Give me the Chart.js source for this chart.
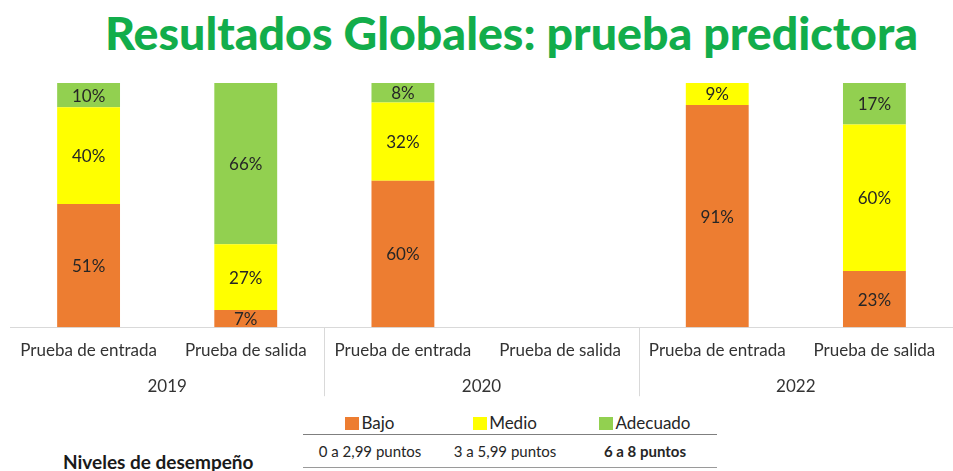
<!DOCTYPE html>
<html>
<head>
<meta charset="utf-8">
<script src="https://cdn.jsdelivr.net/npm/chart.js@4.4.1/dist/chart.umd.min.js"></script>
<style>
  body { margin: 0; width: 953px; height: 471px; background: #fff; font-family: Lato, sans-serif; position: relative; overflow: hidden; }
  #title { position: absolute; left: 105px; top: 5px; font-size: 46px; line-height: 56px; font-weight: 900; color: #12AD4B; white-space: nowrap; transform-origin: 0 0; }
  #chart { position: absolute; left: 0; top: 70px; }
  #legend { position: absolute; left: 303px; top: 410px; border-collapse: collapse; color: #262626; }
  #legend td { text-align: center; padding: 0; }
  #legend tr.names td { height: 24px; font-size: 17px; border-bottom: 1.5px solid #7f7f7f; }
  #legend tr.ranges td { height: 32px; font-size: 15px; border-bottom: 1.5px solid #9a9a9a; }
  .sw { display: inline-block; width: 14px; height: 13px; margin-right: 2px; vertical-align: -1px; }
  #niveles { position: absolute; left: 63px; top: 450px; font-size: 19px; font-weight: 700; color: #1a1a1a; }
</style>
</head>
<body>
<div id="title">Resultados Globales: prueba predictora</div>
<canvas id="chart" width="953" height="330"></canvas>
<table id="legend"><tbody></tbody></table>
<div id="niveles">Niveles de desempeño</div>
<script>
'use strict';

let tests = ['Prueba de entrada', 'Prueba de salida', 'Prueba de entrada', 'Prueba de salida', 'Prueba de entrada', 'Prueba de salida'];
let years = ['2019', '2020', '2022'];

let levels = ['Bajo', 'Medio', 'Adecuado'];
let ranges = ['0 a 2,99 puntos', '3 a 5,99 puntos', '6 a 8  puntos'];
let colors = ['#ED7D31', '#FFFF00', '#92D050'];

let bajo = [51, 7, 60, null, 91, 23];
let medio = [40, 27, 32, null, 9, 60];
let adecuado = [10, 66, 8, null, 0, 17];

// fit title width to the reference
let titleEl = document.getElementById('title');
let tw = titleEl.getBoundingClientRect().width;
titleEl.style.transform = 'scaleX(' + (813 / tw) + ')';

// legend table
let tbody = document.querySelector('#legend tbody');
let colW = [134, 136, 144];
let row1 = '<tr class="names">';
let row2 = '<tr class="ranges">';
for (let i = 0; i < levels.length; i++) {
  row1 += '<td style="width:' + colW[i] + 'px"><span class="sw" style="background:' + colors[i] + '"></span>' + levels[i] + '</td>';
  row2 += '<td style="' + (i === 2 ? 'font-weight:700' : '') + '">' + ranges[i] + '</td>';
}
tbody.innerHTML = row1 + '</tr>' + row2 + '</tr>';

// 100% stacked: each bar is scaled to its own total
let series = [bajo, medio, adecuado];
let totals = tests.map((t, i) => series.reduce((s, arr) => s + (arr[i] || 0), 0));
let shares = series.map(arr => arr.map((v, i) => v === null ? null : v / totals[i] * 100));

const segmentLabels = {
  id: 'segmentLabels',
  afterDatasetsDraw(chart) {
    let ctx = chart.ctx;
    ctx.save();
    ctx.font = '17px Lato';
    ctx.fillStyle = '#262626';
    ctx.textAlign = 'center';
    ctx.textBaseline = 'middle';
    chart.data.datasets.forEach((ds, d) => {
      chart.getDatasetMeta(d).data.forEach((bar, i) => {
        let v = series[d][i];
        if (!v) return;
        ctx.fillText(v + '%', bar.x, (bar.y + bar.base) / 2 + 1);
      });
    });
    ctx.restore();
  }
};

const groupLines = {
  id: 'groupLines',
  afterDraw(chart) {
    let ctx = chart.ctx;
    let xs = chart.scales.x;
    let bottom = chart.chartArea.bottom;
    ctx.save();
    ctx.strokeStyle = '#d9d9d9';
    ctx.lineWidth = 1;
    [2, 4].forEach(k => {
      let x = Math.round((xs.getPixelForValue(k - 1) + xs.getPixelForValue(k)) / 2) + 0.5;
      ctx.beginPath();
      ctx.moveTo(x, bottom);
      ctx.lineTo(x, bottom + 69);
      ctx.stroke();
    });
    ctx.restore();
  }
};

const data = {
  labels: tests,
  datasets: levels.map((name, d) => ({
    label: name,
    data: shares[d],
    backgroundColor: colors[d],
    borderWidth: 0,
    barPercentage: 0.4,
    categoryPercentage: 1
  }))
};

const config = {
  type: 'bar',
  data: data,
  options: {
    responsive: false,
    animation: false,
    layout: { padding: { top: 13, left: 10, right: 0, bottom: 0 } },
    plugins: {
      legend: { display: false },
      tooltip: { enabled: false }
    },
    scales: {
      x: {
        stacked: true,
        weight: 0,
        grid: { drawOnChartArea: false, drawTicks: false },
        border: { color: '#d9d9d9' },
        ticks: { autoSkip: false, maxRotation: 0, padding: 13, color: '#333', font: { family: 'Lato', size: 17 } }
      },
      x2: {
        type: 'category',
        labels: years,
        position: 'bottom',
        offset: true,
        weight: 1,
        grid: { display: false, drawTicks: false },
        border: { display: false },
        ticks: { padding: 3, color: '#333', font: { family: 'Lato', size: 17 } }
      },
      y: {
        stacked: true,
        display: false,
        min: 0,
        max: 100
      }
    }
  },
  plugins: [segmentLabels, groupLines]
};

new Chart(document.getElementById('chart'), config);
</script>
</body>
</html>
